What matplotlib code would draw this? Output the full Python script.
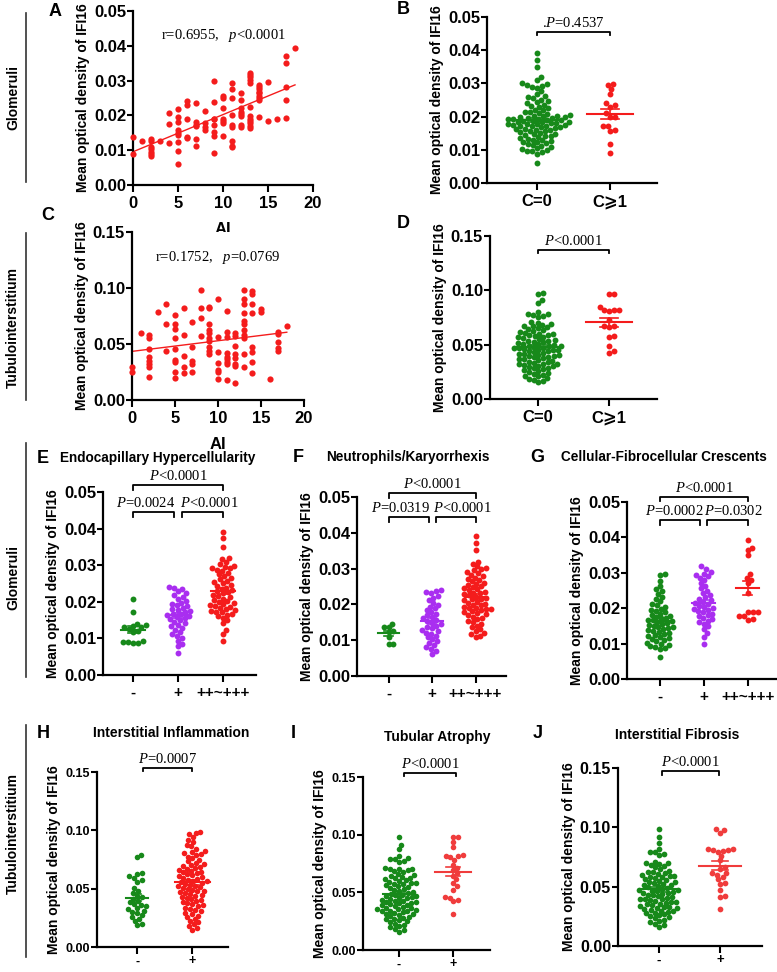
import matplotlib
matplotlib.use("Agg")
import matplotlib.pyplot as plt
import numpy as np
from matplotlib.lines import Line2D

plt.rcParams['font.family'] = ['Liberation Sans', 'DejaVu Sans']
plt.rcParams['font.weight'] = 'bold'
plt.rcParams['axes.labelweight'] = 'bold'
plt.rcParams['mathtext.fontset'] = 'custom'
plt.rcParams['mathtext.rm'] = 'Liberation Serif:normal'
plt.rcParams['mathtext.it'] = 'Liberation Serif:italic:normal'

GREEN = '#17891a'
PURPLE = '#a92ef0'
RED = '#f41c1c'
RED2 = '#f03c3c'

# ---- A: AI vs glomerular IFI16 ----
ai_glom = [0, 0, 1, 2, 2, 2, 2, 2, 2, 2, 3, 4, 4, 4, 5, 5, 5, 5, 5, 5, 5, 5, 5,
           6, 6, 6, 6, 6, 7, 7, 7, 7, 7, 7, 8, 8, 8, 8, 9, 9, 9, 9, 9, 9, 9, 9,
           10, 10, 10, 10, 10, 10, 10, 11, 11, 11, 11, 11, 11, 11, 11, 11,
           12, 12, 12, 12, 12, 12, 12, 12, 13, 13, 13, 13, 13, 13, 13, 13, 13, 13, 13, 13,
           14, 14, 14, 14, 14, 14, 14, 14, 14, 15, 15, 16, 17, 17, 17, 17, 17, 18]
od_glom = [0.0139, 0.0089, 0.0125, 0.0131, 0.0125, 0.0110, 0.0103, 0.0096, 0.0089, 0.0083,
           0.0127, 0.0208, 0.0174, 0.0120,
           0.0218, 0.0196, 0.0182, 0.0158, 0.0148, 0.0144, 0.0123, 0.0099, 0.0059,
           0.0241, 0.0230, 0.0191, 0.0139, 0.0134,
           0.0235, 0.0180, 0.0172, 0.0170, 0.0131, 0.0113,
           0.0213, 0.0177, 0.0168, 0.0158,
           0.0299, 0.0239, 0.0191, 0.0189, 0.0172, 0.0153, 0.0141, 0.0093,
           0.0257, 0.0251, 0.0220, 0.0191, 0.0185, 0.0179, 0.0142,
           0.0293, 0.0275, 0.0249, 0.0201, 0.0172, 0.0168, 0.0125, 0.0113, 0.0110,
           0.0265, 0.0244, 0.0220, 0.0211, 0.0204, 0.0198, 0.0172, 0.0168,
           0.0321, 0.0316, 0.0309, 0.0302, 0.0294, 0.0225, 0.0198, 0.0191, 0.0185, 0.0177, 0.0170, 0.0163,
           0.0287, 0.0281, 0.0275, 0.0268, 0.0263, 0.0257, 0.0251, 0.0244, 0.0194,
           0.0295, 0.0185, 0.0189, 0.0371, 0.0350, 0.0283, 0.0244, 0.0193, 0.0393]

# ---- C: AI vs tubulointerstitial IFI16 ----
ai_tub = [0, 0, 1, 2, 2, 2, 2, 2, 2, 2, 2, 3, 4, 4, 4, 5, 5, 5, 5, 5, 5, 5, 5, 5,
          6, 6, 6, 6, 6, 7, 7, 7, 7, 7, 8, 8, 8, 8, 9, 9, 9, 9, 9, 9, 9, 9, 9, 9,
          10, 10, 10, 10, 10, 10, 10, 11, 11, 11, 11, 11, 11, 11, 11, 11,
          12, 12, 12, 12, 12, 12, 12, 12, 13, 13, 13, 13, 13, 13, 13, 13, 13, 13, 13,
          14, 14, 14, 14, 14, 14, 14, 14, 15, 15, 16, 17, 17, 17, 17, 17, 18]
od_tub = [0.0291, 0.0247, 0.0594,
          0.0580, 0.0550, 0.0454, 0.0380, 0.0350, 0.0318, 0.0297, 0.0202, 0.0787,
          0.0855, 0.0677, 0.0440,
          0.0763, 0.0677, 0.0630, 0.0558, 0.0451, 0.0356, 0.0336, 0.0247, 0.0199,
          0.0817, 0.0579, 0.0395, 0.0297, 0.0238,
          0.0698, 0.0475, 0.0348, 0.0321, 0.0247,
          0.0980, 0.0817, 0.0728, 0.0573,
          0.0826, 0.0817, 0.0677, 0.0624, 0.0594, 0.0558, 0.0529, 0.0475, 0.0440, 0.0410,
          0.0906, 0.0564, 0.0425, 0.0327, 0.0267, 0.0247, 0.0184,
          0.0796, 0.0609, 0.0564, 0.0416, 0.0386, 0.0362, 0.0342, 0.0318, 0.0178,
          0.0594, 0.0570, 0.0481, 0.0410, 0.0377, 0.0321, 0.0303, 0.0154,
          0.0980, 0.0906, 0.0861, 0.0781, 0.0704, 0.0683, 0.0624, 0.0579, 0.0558, 0.0407, 0.0291,
          0.0974, 0.0950, 0.0855, 0.0778, 0.0475, 0.0431, 0.0336, 0.0244,
          0.0811, 0.0787, 0.0187, 0.0609, 0.0588, 0.0514, 0.0460, 0.0440, 0.0659]

# ---- B: glomerular IFI16 by crescent C ----
b_c0 = [0.0391, 0.0369, 0.0348, 0.0318, 0.0309, 0.0301, 0.0298, 0.0296, 0.0292, 0.0289, 0.0287,
        0.0276, 0.0268, 0.0262, 0.0258, 0.0255, 0.0251, 0.0246, 0.0243, 0.0240, 0.0236, 0.0233,
        0.0229, 0.0226, 0.0221, 0.0219, 0.0214, 0.0211, 0.0208, 0.0205, 0.0203, 0.0201, 0.0199, 0.0198,
        0.0196, 0.0194, 0.0193, 0.0191, 0.0189, 0.0188, 0.0186, 0.0184, 0.0183, 0.0181, 0.0179, 0.0178,
        0.0176, 0.0175, 0.0173, 0.0171,
        0.0168, 0.0166, 0.0164, 0.0161, 0.0159, 0.0157, 0.0154, 0.0152, 0.0149, 0.0147, 0.0145, 0.0143, 0.0141,
        0.0138, 0.0136, 0.0133, 0.0131, 0.0129, 0.0127, 0.0124, 0.0122, 0.0119, 0.0117, 0.0114, 0.0112,
        0.0108, 0.0104, 0.0101, 0.0099, 0.0097, 0.0095, 0.0093, 0.0088, 0.0061,
        0.0185, 0.0192, 0.0177, 0.0202, 0.0169, 0.0182, 0.0162, 0.0213, 0.0195, 0.0172, 0.0158]
b_c1 = [0.0297, 0.0294, 0.0282, 0.0267, 0.0240, 0.0235, 0.0230, 0.0210, 0.0199, 0.0199,
        0.0173, 0.0171, 0.0160, 0.0156, 0.0118, 0.0090]

# ---- D: tubulointerstitial IFI16 by crescent C ----
d_c0 = [0.0978, 0.0962, 0.0915, 0.0884, 0.0802, 0.0785, 0.0778, 0.0771, 0.0762, 0.0755, 0.0712, 0.0703,
        0.0689, 0.0681, 0.0672, 0.0668, 0.0659, 0.0652, 0.0641, 0.0633, 0.0624, 0.0612, 0.0605, 0.0601,
        0.0596, 0.0591, 0.0585, 0.0579, 0.0572, 0.0566, 0.0558, 0.0551, 0.0543, 0.0536, 0.0528, 0.0521,
        0.0514, 0.0506, 0.0502,
        0.0497, 0.0491, 0.0486, 0.0479, 0.0472, 0.0466, 0.0461, 0.0455, 0.0449, 0.0443, 0.0438, 0.0431,
        0.0425, 0.0418, 0.0412, 0.0406, 0.0401,
        0.0396, 0.0389, 0.0383, 0.0377, 0.0371, 0.0364, 0.0358, 0.0351, 0.0345, 0.0339, 0.0333, 0.0326,
        0.0319, 0.0313, 0.0306, 0.0301,
        0.0296, 0.0289, 0.0281, 0.0274, 0.0266, 0.0258, 0.0249, 0.0241, 0.0233, 0.0224, 0.0216, 0.0208,
        0.0196, 0.0187, 0.0178, 0.0169, 0.0152,
        0.0468, 0.0532, 0.0394, 0.0447, 0.0318, 0.0484]
d_c1 = [0.0970, 0.0966, 0.0850, 0.0820, 0.0820, 0.0820, 0.0810, 0.0730, 0.0670, 0.0670,
        0.0660, 0.0580, 0.0570, 0.0490, 0.0440, 0.0420]

# ---- E: endocapillary hypercellularity ----
e_neg = [0.0208, 0.0172, 0.0140, 0.0137, 0.0133, 0.0130, 0.0130, 0.0125, 0.0120, 0.0118,
         0.0093, 0.0090, 0.0090, 0.0088, 0.0087]
e_pos = [0.0241, 0.0238, 0.0236, 0.0229, 0.0223, 0.0219, 0.0214, 0.0209, 0.0202, 0.0198,
         0.0195, 0.0191, 0.0188, 0.0184, 0.0181, 0.0178, 0.0175, 0.0172, 0.0168, 0.0166,
         0.0163, 0.0161, 0.0158, 0.0155, 0.0152, 0.0149, 0.0145, 0.0141, 0.0137, 0.0133,
         0.0129, 0.0124, 0.0118, 0.0113, 0.0107, 0.0101, 0.0094, 0.0086, 0.0079, 0.0061]
e_pp = [0.0391, 0.0374, 0.0351, 0.0321, 0.0316, 0.0309, 0.0303, 0.0299, 0.0296, 0.0293,
        0.0291, 0.0288, 0.0284, 0.0279, 0.0275, 0.0271, 0.0266, 0.0262, 0.0258, 0.0254,
        0.0251, 0.0247, 0.0243, 0.0239, 0.0236, 0.0233, 0.0229, 0.0226, 0.0223, 0.0219,
        0.0216, 0.0213, 0.0209, 0.0206, 0.0202, 0.0199, 0.0196, 0.0193, 0.0191, 0.0188,
        0.0186, 0.0183, 0.0181, 0.0178, 0.0176, 0.0173, 0.0171, 0.0168, 0.0165, 0.0161,
        0.0156, 0.0149, 0.0141, 0.0123, 0.0112, 0.0094]

# ---- F: neutrophils / karyorrhexis ----
f_neg = [0.0146, 0.0138, 0.0136, 0.0126, 0.0122, 0.0108, 0.0090, 0.0088]
f_pos = [0.0241, 0.0238, 0.0236, 0.0232, 0.0224, 0.0219, 0.0212, 0.0205, 0.0199, 0.0194,
         0.0189, 0.0184, 0.0179, 0.0174, 0.0169, 0.0165, 0.0161, 0.0157, 0.0153, 0.0149,
         0.0145, 0.0141, 0.0137, 0.0133, 0.0129, 0.0125, 0.0121, 0.0117, 0.0112, 0.0108,
         0.0103, 0.0098, 0.0092, 0.0087, 0.0081, 0.0076, 0.0071, 0.0061]
f_pp = [0.0391, 0.0371, 0.0351, 0.0319, 0.0314, 0.0306, 0.0301, 0.0298, 0.0295, 0.0291,
        0.0287, 0.0283, 0.0279, 0.0275, 0.0271, 0.0268, 0.0264, 0.0261, 0.0257, 0.0254,
        0.0251, 0.0248, 0.0245, 0.0242, 0.0239, 0.0236, 0.0233, 0.0231, 0.0228, 0.0225,
        0.0222, 0.0219, 0.0216, 0.0214, 0.0211, 0.0208, 0.0205, 0.0202, 0.0199, 0.0197,
        0.0194, 0.0191, 0.0189, 0.0186, 0.0183, 0.0181, 0.0178, 0.0175, 0.0172, 0.0169,
        0.0166, 0.0163, 0.0159, 0.0155, 0.0151, 0.0146, 0.0141, 0.0136, 0.0131, 0.0126,
        0.0121, 0.0116, 0.0112, 0.0109, 0.0186]

# ---- G: cellular-fibrocellular crescents ----
g_neg = [0.0298, 0.0293, 0.0276, 0.0262, 0.0254, 0.0249, 0.0241, 0.0232, 0.0226, 0.0219,
         0.0212, 0.0208, 0.0204, 0.0199, 0.0196, 0.0192, 0.0188, 0.0185, 0.0182, 0.0179,
         0.0176, 0.0173, 0.0171, 0.0168, 0.0166, 0.0163, 0.0161, 0.0158, 0.0156, 0.0153,
         0.0151, 0.0148, 0.0146, 0.0143, 0.0141, 0.0138, 0.0135, 0.0132, 0.0129, 0.0126,
         0.0123, 0.0121, 0.0118, 0.0115, 0.0112, 0.0109, 0.0106, 0.0102, 0.0099, 0.0096,
         0.0093, 0.0091, 0.0088, 0.0085, 0.0062]
g_pos = [0.0319, 0.0311, 0.0303, 0.0298, 0.0295, 0.0291, 0.0286, 0.0281, 0.0272, 0.0264,
         0.0256, 0.0249, 0.0243, 0.0237, 0.0231, 0.0226, 0.0222, 0.0218, 0.0214, 0.0211,
         0.0207, 0.0204, 0.0201, 0.0198, 0.0195, 0.0192, 0.0188, 0.0185, 0.0181, 0.0177,
         0.0173, 0.0169, 0.0165, 0.0161, 0.0156, 0.0149, 0.0141, 0.0129, 0.0118, 0.0099]
g_pp = [0.0394, 0.0371, 0.0365, 0.0350, 0.0296, 0.0286, 0.0280, 0.0270, 0.0242, 0.0190,
        0.0188, 0.0188, 0.0179, 0.0178, 0.0170, 0.0168]

# ---- H: interstitial inflammation ----
h_neg = [0.0792, 0.0768, 0.0631, 0.0622, 0.0608, 0.0593, 0.0578, 0.0561, 0.0502, 0.0481,
         0.0462, 0.0441, 0.0428, 0.0412, 0.0398, 0.0382, 0.0371, 0.0363, 0.0348, 0.0336,
         0.0325, 0.0312, 0.0301, 0.0289, 0.0272, 0.0258, 0.0241, 0.0222, 0.0201, 0.0185]
h_pos = [0.0982, 0.0978, 0.0971, 0.0945, 0.0921, 0.0902, 0.0878, 0.0862, 0.0841, 0.0822,
         0.0811, 0.0802, 0.0795, 0.0786, 0.0775, 0.0762, 0.0748, 0.0733, 0.0721, 0.0712,
         0.0703, 0.0695, 0.0688, 0.0679, 0.0671, 0.0663, 0.0655, 0.0647, 0.0639, 0.0631,
         0.0622, 0.0614, 0.0606, 0.0598, 0.0591, 0.0584, 0.0577, 0.0569, 0.0562, 0.0555,
         0.0548, 0.0541, 0.0534, 0.0527, 0.0519, 0.0512, 0.0505, 0.0498, 0.0491, 0.0483,
         0.0476, 0.0468, 0.0461, 0.0453, 0.0445, 0.0437, 0.0429, 0.0421, 0.0412, 0.0404,
         0.0395, 0.0386, 0.0377, 0.0368, 0.0358, 0.0348, 0.0338, 0.0327, 0.0316, 0.0305,
         0.0293, 0.0281, 0.0268, 0.0255, 0.0241, 0.0226, 0.0211, 0.0196, 0.0181, 0.0162, 0.0149]

# ---- I: tubular atrophy ----
i_neg = [0.0982, 0.0912, 0.0875, 0.0812, 0.0798, 0.0791, 0.0785, 0.0772, 0.0761, 0.0712,
         0.0705, 0.0701, 0.0698, 0.0693, 0.0688, 0.0674, 0.0661, 0.0652, 0.0645, 0.0633,
         0.0628, 0.0621, 0.0612, 0.0605, 0.0599, 0.0591, 0.0585, 0.0579, 0.0571, 0.0562,
         0.0554, 0.0546, 0.0538, 0.0529, 0.0521, 0.0512, 0.0503, 0.0495, 0.0488, 0.0481,
         0.0474, 0.0468, 0.0461, 0.0455, 0.0448, 0.0442, 0.0436, 0.0429, 0.0423, 0.0417,
         0.0411, 0.0405, 0.0398, 0.0392, 0.0386, 0.0379, 0.0373, 0.0367, 0.0361, 0.0355,
         0.0348, 0.0342, 0.0336, 0.0329, 0.0322, 0.0316, 0.0309, 0.0302, 0.0295, 0.0288,
         0.0281, 0.0273, 0.0265, 0.0257, 0.0248, 0.0239, 0.0229, 0.0219, 0.0208, 0.0196,
         0.0184, 0.0172, 0.0159, 0.0352, 0.0418, 0.0466, 0.0334, 0.0574]
i_pos = [0.0982, 0.0978, 0.0935, 0.0891, 0.0821, 0.0818, 0.0812, 0.0805, 0.0782, 0.0741,
         0.0712, 0.0692, 0.0665, 0.0641, 0.0612, 0.0581, 0.0552, 0.0523, 0.0462, 0.0451,
         0.0432, 0.0421, 0.0312]

# ---- J: interstitial fibrosis ----
j_neg = [0.0982, 0.0915, 0.0872, 0.0815, 0.0795, 0.0788, 0.0776, 0.0764, 0.0711, 0.0702,
         0.0696, 0.0691, 0.0684, 0.0672, 0.0665, 0.0648, 0.0636, 0.0627, 0.0618, 0.0609,
         0.0601, 0.0594, 0.0588, 0.0581, 0.0573, 0.0565, 0.0557, 0.0548, 0.0539, 0.0531,
         0.0522, 0.0514, 0.0505, 0.0497, 0.0489, 0.0482, 0.0475, 0.0468, 0.0461, 0.0454,
         0.0447, 0.0440, 0.0433, 0.0426, 0.0419, 0.0413, 0.0406, 0.0399, 0.0392, 0.0386,
         0.0379, 0.0372, 0.0365, 0.0358, 0.0351, 0.0344, 0.0338, 0.0331, 0.0324, 0.0317,
         0.0311, 0.0304, 0.0297, 0.0289, 0.0282, 0.0274, 0.0266, 0.0258, 0.0249, 0.0241,
         0.0232, 0.0222, 0.0212, 0.0201, 0.0189, 0.0176, 0.0161, 0.0448, 0.0512, 0.0395,
         0.0583, 0.0326, 0.0467, 0.0541, 0.0372, 0.0298, 0.0621]
j_pos = [0.0982, 0.0978, 0.0952, 0.0812, 0.0795, 0.0652, 0.0821, 0.0815, 0.0809, 0.0804,
         0.0762, 0.0721, 0.0582, 0.0561, 0.0662, 0.0618, 0.0612, 0.0601, 0.0532, 0.0521,
         0.0472, 0.0421, 0.0412, 0.0311]

YLAB = 'Mean optical density of IFI16'
W, H = 777, 972
fig = plt.figure(figsize=(W / 100, H / 100), dpi=100)


def px_axes(left, top, right, bottom):
    return fig.add_axes([left / W, 1 - bottom / H, (right - left) / W, (bottom - top) / H])


def style(ax, ysize=12, xsize=12, xpad=3):
    for s in ['top', 'right']:
        ax.spines[s].set_visible(False)
    for s in ['left', 'bottom']:
        ax.spines[s].set_linewidth(1.6)
    ax.tick_params(width=1.5, length=4, pad=1, labelsize=ysize, axis='y')
    ax.tick_params(width=1.5, length=5, pad=xpad, labelsize=xsize, axis='x')


def swarm(ax, xc, vals, color, d=5.0, s=18):
    vals = np.asarray(vals)
    pts = ax.transData.transform(np.column_stack([np.full(len(vals), xc), vals]))
    ys = pts[:, 1]
    x0 = pts[0, 0]
    placed = []
    offs = np.zeros(len(vals))
    for i in np.argsort(ys):
        y = ys[i]
        cands = [0.0]
        for px, py in placed:
            dy = abs(py - y)
            if dy < d:
                dx = np.sqrt(d * d - dy * dy)
                cands += [px + dx, px - dx]
        cands.sort(key=abs)
        for c in cands:
            if all((c - px) ** 2 + (y - py) ** 2 >= d * d - 1e-6 for px, py in placed):
                break
        placed.append((c, y))
        offs[i] = c
    back = ax.transData.inverted().transform(np.column_stack([x0 + offs, ys]))
    ax.scatter(back[:, 0], vals, s=s, color=color, linewidths=0, clip_on=False, zorder=3)


def mean_sem(ax, xc, vals, color, hw=0.3):
    vals = np.asarray(vals)
    m = vals.mean()
    sem = vals.std(ddof=1) / np.sqrt(len(vals))
    ax.plot([xc - hw, xc + hw], [m, m], color=color, lw=1.5, zorder=4)
    ax.plot([xc, xc], [m - sem, m + sem], color=color, lw=1.2, zorder=4)
    for v in (m - sem, m + sem):
        ax.plot([xc - hw * 0.4, xc + hw * 0.4], [v, v], color=color, lw=1.2, zorder=4)


def bracket(ax, x1, x2, y, text, size=10.5, tick=0.025, dx=0.0):
    tr = ax.get_xaxis_transform()
    ax.plot([x1, x1, x2, x2], [y - tick, y, y, y - tick], color='black', lw=1.3,
            transform=tr, clip_on=False)
    ax.text((x1 + x2) / 2 + dx, y + 0.012, text, transform=tr, ha='center', va='bottom',
            fontsize=size, fontweight='normal', family='Liberation Serif')


def group_panel(ax, groups, colors, labels, ylim, yticks, xlim, hws, ysize, xsize,
                d=5.0, s=18, xpad=3):
    style(ax, ysize, xsize, xpad)
    ax.set_xlim(*xlim)
    ax.set_ylim(*ylim)
    ax.set_yticks(yticks)
    ax.set_yticklabels(['%.2f' % t for t in yticks])
    ax.set_xticks(range(len(groups)))
    ax.set_xticklabels(labels)
    for k, (vals, col) in enumerate(zip(groups, colors)):
        swarm(ax, k, vals, col, d=d, s=s)
        mean_sem(ax, k, vals, col, hws[k])


def fig_text(x, y, t, **kw):
    fig.text(x / W, 1 - y / H, t, **kw)


# ---------------- A ----------------
axA = px_axes(133, 11, 313, 185)
style(axA)
axA.set_xlim(0, 20)
axA.set_ylim(0, 0.05)
axA.set_xticks([0, 5, 10, 15, 20])
axA.set_yticks(np.arange(0, 0.051, 0.01))
axA.set_yticklabels(['%.2f' % t for t in np.arange(0, 0.051, 0.01)])
axA.scatter(ai_glom, od_glom, s=20, color=RED, linewidths=0, clip_on=False, zorder=3)
k, b = np.polyfit(ai_glom, od_glom, 1)
xx = np.array([min(ai_glom), max(ai_glom)])
axA.plot(xx, k * xx + b, color=RED, lw=1)
axA.set_ylabel(YLAB, fontsize=10, labelpad=3)
axA.set_xlabel('AI', fontsize=12, labelpad=8)
axA.text(0.5, 0.84, r'r=0.6955,   $\mathit{p}$<0.0001', transform=axA.transAxes, ha='center',
         fontsize=10.5, fontweight='normal', family='Liberation Serif')

# ---------------- B ----------------
axB = px_axes(487, 17, 657, 183)
group_panel(axB, [b_c0, b_c1], [GREEN, RED], ['C=0', 'C⩾1'], (0, 0.05),
            np.arange(0, 0.051, 0.01), (-0.685, 1.644), [0.32, 0.32], 12, 12, d=5.2)
axB.set_ylabel(YLAB, fontsize=10, labelpad=3)
bracket(axB, 0, 1, 0.91, r'.$\mathit{P}$=0.4537', tick=0.02)

# ---------------- C ----------------
axC = px_axes(132, 232, 304, 400)
style(axC)
axC.set_xlim(0, 20)
axC.set_ylim(0, 0.15)
axC.set_xticks([0, 5, 10, 15, 20])
axC.set_yticks([0, 0.05, 0.10, 0.15])
axC.set_yticklabels(['0.00', '0.05', '0.10', '0.15'])
axC.scatter(ai_tub, od_tub, s=20, color=RED, linewidths=0, clip_on=False, zorder=3)
k, b = np.polyfit(ai_tub, od_tub, 1)
xx = np.array([min(ai_tub), max(ai_tub)])
axC.plot(xx, k * xx + b, color=RED, lw=1)
axC.set_ylabel(YLAB, fontsize=10, labelpad=3)
axC.set_xlabel('AI', fontsize=12, labelpad=8)
axC.text(0.5, 0.83, r'r=0.1752,   $\mathit{p}$=0.0769', transform=axC.transAxes, ha='center',
         fontsize=10.5, fontweight='normal', family='Liberation Serif')

# ---------------- D ----------------
axD = px_axes(490, 236, 657, 399)
group_panel(axD, [d_c0, d_c1], [GREEN, RED], ['C=0', 'C⩾1'], (0, 0.15),
            [0, 0.05, 0.10, 0.15], (-0.676, 1.676), [0.33, 0.33], 12, 12, d=5.1)
axD.set_ylabel(YLAB, fontsize=10, labelpad=3)
bracket(axD, 0, 1, 0.914, r'$\mathit{P}$<0.0001', tick=0.02)

# ---------------- E, F, G ----------------
lab3 = ['-', '+', '++~+++']
y5 = np.arange(0, 0.051, 0.01)
axE = px_axes(103, 492, 256, 675)
group_panel(axE, [e_neg, e_pos, e_pp], [GREEN, PURPLE, RED], lab3, (0, 0.05), y5,
            (-0.667, 2.73), [0.27, 0.27, 0.27], 12, 11)
axE.set_ylabel(YLAB, fontsize=10, labelpad=3)
bracket(axE, 0, 2, 1.038, r'$\mathit{P}$<0.0001')
bracket(axE, 0, 0.92, 0.891, r'$\mathit{P}$=0.0024', dx=-0.18)
bracket(axE, 1.08, 2, 0.891, r'$\mathit{P}$<0.0001', dx=0.16)

axF = px_axes(357, 497, 506, 676)
group_panel(axF, [f_neg, f_pos, f_pp], [GREEN, PURPLE, RED], lab3, (0, 0.05), y5,
            (-0.724, 2.70), [0.25, 0.25, 0.25], 12, 11)
axF.set_ylabel(YLAB, fontsize=10, labelpad=3)
bracket(axF, 0, 2, 1.022, r'$\mathit{P}$<0.0001')
bracket(axF, 0, 0.92, 0.888, r'$\mathit{P}$=0.0319', dx=-0.18)
bracket(axF, 1.08, 2, 0.888, r'$\mathit{P}$<0.0001', dx=0.16)

axG = px_axes(627, 502, 776, 679)
group_panel(axG, [g_neg, g_pos, g_pp], [GREEN, PURPLE, RED], lab3, (0, 0.05), y5,
            (-0.75, 2.64), [0.26, 0.26, 0.26], 12, 11)
axG.set_ylabel(YLAB, fontsize=10, labelpad=3)
bracket(axG, 0, 2, 1.028, r'$\mathit{P}$<0.0001')
bracket(axG, 0, 0.92, 0.896, r'$\mathit{P}$=0.0002', dx=-0.14)
bracket(axG, 1.08, 2, 0.896, r'$\mathit{P}$=0.0302', dx=0.14)

# ---------------- H, I, J ----------------
lab2 = ['-', '+']
y3 = [0, 0.05, 0.10, 0.15]
axH = px_axes(97, 772, 228, 947)
group_panel(axH, [h_neg, h_pos], [GREEN, RED], lab2, (0, 0.15), y3,
            (-0.727, 1.65), [0.2, 0.32], 9, 9, d=4.9, s=16, xpad=1)
axH.set_ylabel(YLAB, fontsize=10, labelpad=3)
bracket(axH, 0.1, 1, 1.023, r'$\mathit{P}$=0.0007', tick=0.02)

axI = px_axes(363, 777, 490, 950)
group_panel(axI, [i_neg, i_pos], [GREEN, RED2], lab2, (0, 0.15), y3,
            (-0.667, 1.685), [0.3, 0.33], 9, 9, d=4.9, s=16, xpad=1)
axI.set_ylabel(YLAB, fontsize=10, labelpad=3)
bracket(axI, 0.1, 1.05, 1.023, r'$\mathit{P}$<0.0001', tick=0.02)

axJ = px_axes(618, 768, 762, 946)
group_panel(axJ, [j_neg, j_pos], [GREEN, RED2], lab2, (0, 0.15), y3,
            (-0.672, 1.69), [0.31, 0.34], 11.5, 9.5, d=5.0, s=17, xpad=1)
axJ.set_ylabel(YLAB, fontsize=10, labelpad=3)
bracket(axJ, 0.05, 0.98, 0.983, r'$\mathit{P}$<0.0001', tick=0.02)

# ---------------- titles, letters, side labels ----------------
fig_text(158, 458, 'Endocapillary Hypercellularity', ha='center', va='center', fontsize=9.8)
fig_text(408, 457, 'Neutrophils/Karyorrhexis', ha='center', va='center', fontsize=9.8)
fig_text(664, 457, 'Cellular-Fibrocellular Crescents', ha='center', va='center', fontsize=9.8)
fig_text(171, 733, 'Interstitial Inflammation', ha='center', va='center', fontsize=10)
fig_text(437, 737, 'Tubular Atrophy', ha='center', va='center', fontsize=10)
fig_text(677, 735, 'Interstitial Fibrosis', ha='center', va='center', fontsize=10)

for letter, x, y in [('A', 55, 11), ('B', 403, 9), ('C', 48, 216), ('D', 403, 223),
                     ('E', 43, 458), ('F', 298, 457), ('G', 537, 457),
                     ('H', 43, 733), ('I', 293, 733), ('J', 538, 733)]:
    fig_text(x, y, letter, ha='center', va='center', fontsize=13, fontweight='bold')

for name, yc, y1, y2 in [('Glomeruli', 97, 13, 182), ('Tubulointerstitium', 328, 233, 400),
                         ('Glomeruli', 578, 443, 677), ('Tubulointerstitium', 833, 725, 957)]:
    fig_text(13, yc, name, rotation=90, ha='center', va='center', fontsize=10, fontweight='bold')
    fig.add_artist(Line2D([26 / W, 26 / W], [1 - y1 / H, 1 - y2 / H], color='#333333', lw=1.2))

fig.savefig('out.png', dpi=100)
